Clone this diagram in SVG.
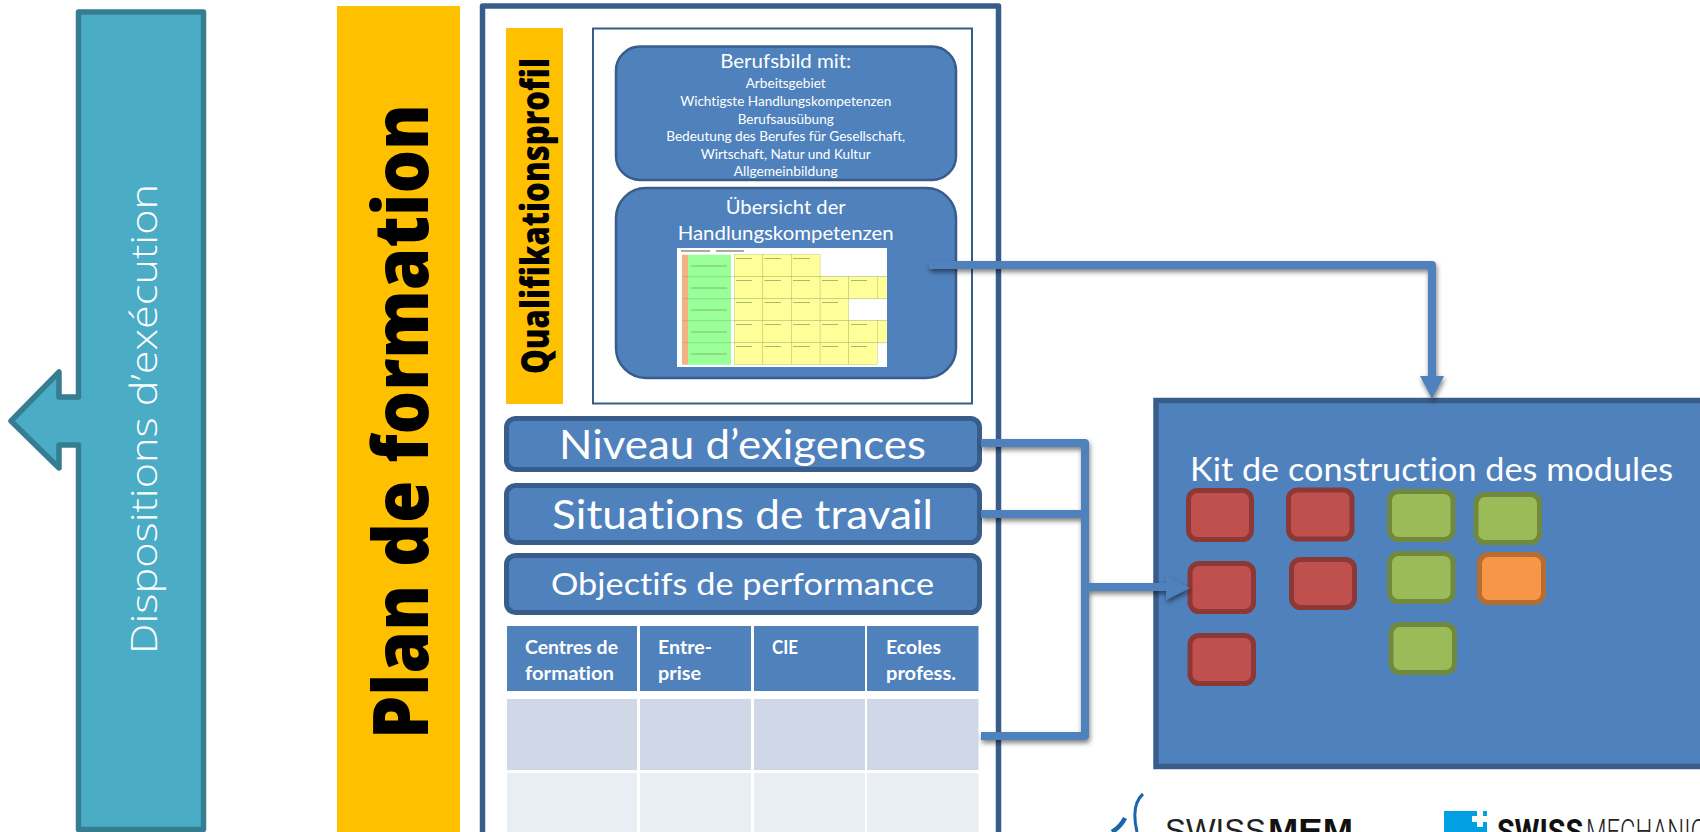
<svg xmlns="http://www.w3.org/2000/svg" width="1700" height="832" viewBox="0 0 1700 832">
<defs>
<filter id="sh" x="-20%" y="-20%" width="140%" height="140%"><feDropShadow dx="1" dy="3" stdDeviation="2.500" flood-color="#000" flood-opacity="0.5"/></filter>
<g id="cell"><rect width="28.6" height="22" fill="#ffff99" stroke="#b5b56a" stroke-width="0.4"/></g>
</defs>
<style>
text{font-family:"Lato","Liberation Sans",sans-serif;fill:#fff;font-variant-ligatures:none}
.box{fill:#4f81bd;stroke:#385d8a}
.mod{stroke-width:5}
.r{fill:#c0504d;stroke:#8c3836}
.g{fill:#9bbb59;stroke:#71893f}
.o{fill:#f79646;stroke:#b66d31}
.hd{fill:#4f81bd}.r1{fill:#d0d8e8}.r2{fill:#e9edf4}
.th{font-size:18.5px;font-weight:700}
.sm{font-size:14px}
.dv{font-family:"Open Sans",sans-serif;font-weight:800;fill:#000}
.con{fill:none;stroke:#4f81bd;stroke-width:8;stroke-linejoin:round}
</style>
<rect width="1700" height="832" fill="#fff"/>
<g id="dispositions">
<path d="M78.5 12H203.5V829.5H78.500V445H59V468L11 421L59 372V397H78.500Z" fill="#4bacc6" stroke="#357d91" stroke-width="5.500" stroke-linejoin="round"/>
<text transform="translate(157 654) rotate(-90)" font-size="36" font-weight="300" style="font-family:'Open Sans',sans-serif" textLength="470" lengthAdjust="spacingAndGlyphs">Dispositions d’exécution</text>
</g>
<g id="plan-title">
<rect x="337" y="6" width="123" height="826" fill="#ffc000"/>
<text class="dv" transform="translate(428 739) rotate(-90)" font-size="76" textLength="635" lengthAdjust="spacingAndGlyphs">Plan de formation</text>
</g>
<g id="frame"><path d="M482.500 840V6H998.500V840" fill="#fff" stroke="#385d8a" stroke-width="5.500" stroke-linejoin="round"/></g>
<g id="qualifikation">
<rect x="506" y="28" width="57" height="376" fill="#ffc000"/>
<text class="dv" transform="translate(549 374) rotate(-90)" font-size="38" textLength="316" lengthAdjust="spacingAndGlyphs">Qualifikationsprofil</text>
</g>
<g id="profil-box"><rect x="593" y="28.500" width="379" height="375" fill="#fff" stroke="#385d8a" stroke-width="2"/></g>
<g id="berufsbild">
<rect class="box" x="616" y="46.500" width="340" height="133.500" rx="24" stroke-width="2.500"/>
<g text-anchor="middle">
<text x="785.700" y="68" font-size="20" textLength="131" lengthAdjust="spacingAndGlyphs">Berufsbild mit:</text>
<text class="sm" x="785.700" y="88" textLength="80" lengthAdjust="spacingAndGlyphs">Arbeitsgebiet</text>
<text class="sm" x="785.700" y="106" textLength="211" lengthAdjust="spacingAndGlyphs">Wichtigste Handlungskompetenzen</text>
<text class="sm" x="785.700" y="124" textLength="96" lengthAdjust="spacingAndGlyphs">Berufsausübung</text>
<text class="sm" x="785.700" y="141" textLength="239" lengthAdjust="spacingAndGlyphs">Bedeutung des Berufes für Gesellschaft,</text>
<text class="sm" x="785.700" y="159" textLength="170" lengthAdjust="spacingAndGlyphs">Wirtschaft, Natur und Kultur</text>
<text class="sm" x="785.700" y="176" textLength="104" lengthAdjust="spacingAndGlyphs">Allgemeinbildung</text>
</g>
</g>
<g id="uebersicht">
<rect class="box" x="616" y="188" width="340" height="190" rx="30" stroke-width="2.500"/>
<g text-anchor="middle">
<text x="785.700" y="214" font-size="20" textLength="120" lengthAdjust="spacingAndGlyphs">Übersicht der</text>
<text x="785.700" y="240" font-size="20" textLength="216" lengthAdjust="spacingAndGlyphs">Handlungskompetenzen</text>
</g>
<rect x="677" y="248" width="210" height="119" fill="#fff"/>
<svg x="677" y="248" width="210" height="119" viewBox="677 248 210 119">
<rect x="682" y="254.700" width="6" height="110" fill="#f4b183"/>
<rect x="688" y="254.700" width="43" height="110" fill="#99ff99"/>
<path d="M682 276.700H887M682 298.700H887M682 320.700H887M682 342.700H887" stroke="#8aa07a" stroke-width="0.400"/>
<use href="#cell" x="734.300" y="254.700"/><use href="#cell" x="762.900" y="254.700"/><use href="#cell" x="791.500" y="254.700"/>
<use href="#cell" x="734.300" y="276.700"/><use href="#cell" x="762.900" y="276.700"/><use href="#cell" x="791.500" y="276.700"/><use href="#cell" x="820.100" y="276.700"/><use href="#cell" x="848.700" y="276.700"/><use href="#cell" x="877.300" y="276.700"/>
<use href="#cell" x="734.300" y="298.700"/><use href="#cell" x="762.900" y="298.700"/><use href="#cell" x="791.500" y="298.700"/><use href="#cell" x="820.100" y="298.700"/>
<use href="#cell" x="734.300" y="320.700"/><use href="#cell" x="762.900" y="320.700"/><use href="#cell" x="791.500" y="320.700"/><use href="#cell" x="820.100" y="320.700"/><use href="#cell" x="848.700" y="320.700"/><use href="#cell" x="877.300" y="320.700"/>
<use href="#cell" x="734.300" y="342.700"/><use href="#cell" x="762.900" y="342.700"/><use href="#cell" x="791.500" y="342.700"/><use href="#cell" x="820.100" y="342.700"/><use href="#cell" x="848.700" y="342.700"/>
<path d="M691 266H727M691 288H727M691 310H727M691 332H727M691 354H727M736 258.500H752M764.500 258.500H781M793 258.500H810M736 280.500H752M764.500 280.500H781M793 280.500H810M822 280.500H838M851 280.500H867M736 302.500H752M764.500 302.500H781M793 302.500H810M822 302.500H838M736 324.500H752M764.500 324.500H781M793 324.500H810M822 324.500H838M851 324.500H867M736 346.500H752M764.500 346.500H781M793 346.500H810M822 346.500H838M851 346.500H867" stroke="#6f8f45" stroke-width="1" opacity="0.600"/>
<path d="M681 251H710M716 251H744" stroke="#555" stroke-width="1"/>
</svg>
</g>
<g id="niveau"><rect class="box" x="506.500" y="418.500" width="473" height="51" rx="9" stroke-width="5"/>
<text x="559" y="459" font-size="40" textLength="367" lengthAdjust="spacingAndGlyphs">Niveau d’exigences</text></g>
<g id="situations"><rect class="box" x="506.500" y="485.500" width="473" height="57" rx="9" stroke-width="5"/>
<text x="552" y="529" font-size="40" textLength="381" lengthAdjust="spacingAndGlyphs">Situations de travail</text></g>
<g id="objectifs"><rect class="box" x="506.500" y="555.500" width="473" height="57" rx="9" stroke-width="5"/>
<text x="551" y="595" font-size="31" textLength="383" lengthAdjust="spacingAndGlyphs">Objectifs de performance</text></g>
<g id="lieux-table">
<rect class="hd" x="507" y="626" width="130" height="65"/><rect class="hd" x="640" y="626" width="111" height="65"/><rect class="hd" x="754" y="626" width="111" height="65"/><rect class="hd" x="867" y="626" width="111.500" height="65"/>
<rect class="r1" x="507" y="699" width="130" height="71"/><rect class="r1" x="640" y="699" width="111" height="71"/><rect class="r1" x="754" y="699" width="111" height="71"/><rect class="r1" x="867" y="699" width="111.500" height="71"/>
<rect class="r2" x="507" y="773" width="130" height="59"/><rect class="r2" x="640" y="773" width="111" height="59"/><rect class="r2" x="754" y="773" width="111" height="59"/><rect class="r2" x="867" y="773" width="111.500" height="59"/>
<text class="th" x="525" y="654" textLength="93" lengthAdjust="spacingAndGlyphs">Centres de</text>
<text class="th" x="525" y="680" textLength="89" lengthAdjust="spacingAndGlyphs">formation</text>
<text class="th" x="658" y="654" textLength="54" lengthAdjust="spacingAndGlyphs">Entre-</text>
<text class="th" x="658" y="680" textLength="43" lengthAdjust="spacingAndGlyphs">prise</text>
<text class="th" x="772" y="654" textLength="26" lengthAdjust="spacingAndGlyphs">CIE</text>
<text class="th" x="886" y="654" textLength="55" lengthAdjust="spacingAndGlyphs">Ecoles</text>
<text class="th" x="886" y="680" textLength="70" lengthAdjust="spacingAndGlyphs">profess.</text>
</g>
<g id="kit">
<rect class="box" x="1156" y="400.500" width="600" height="366" stroke-width="5.500"/>
<text x="1190" y="481" font-size="32" textLength="483" lengthAdjust="spacingAndGlyphs">Kit de construction des modules</text>
</g>
<g id="modules">
<g id="m1"><rect class="mod r" x="1188.500" y="490.500" width="63" height="49" rx="9"/></g>
<g id="m2"><rect class="mod r" x="1288.500" y="490" width="63.500" height="49" rx="9"/></g>
<g id="m3"><rect class="mod r" x="1190" y="563.500" width="63.500" height="48" rx="9"/></g>
<g id="m4"><rect class="mod r" x="1291.500" y="559.500" width="63" height="48" rx="9"/></g>
<g id="m5"><rect class="mod r" x="1190" y="635.500" width="63.500" height="48" rx="9"/></g>
<g id="m6"><rect class="mod g" x="1389.500" y="491.500" width="63.500" height="48" rx="9"/></g>
<g id="m7"><rect class="mod g" x="1476" y="494.500" width="63.500" height="48" rx="9"/></g>
<g id="m8"><rect class="mod g" x="1389.500" y="553.500" width="63.500" height="48" rx="9"/></g>
<g id="m9"><rect class="mod o" x="1479.500" y="554.500" width="64" height="48" rx="9"/></g>
<g id="m10"><rect class="mod g" x="1391" y="624.500" width="63.500" height="48" rx="9"/></g>
</g>
<g id="connectors" filter="url(#sh)">
<path class="con" d="M929 265H1432V378"/>
<path d="M1420 376H1444L1432 399Z" fill="#4f81bd"/>
<path class="con" d="M981 443H1085V736H981"/>
<path class="con" d="M981 514H1085"/>
<path class="con" d="M1085 587H1168"/>
<path d="M1166 576L1190 588L1166 600Z" fill="#4f81bd"/>
</g>
<g id="logo-swissmem">
<path d="M1143 794C1135 801 1133 815 1137 832" fill="none" stroke="#1a66a8" stroke-width="3"/>
<path d="M1125 818C1122 824 1117 829 1112 832" fill="none" stroke="#1a66a8" stroke-width="4.500"/>
<text x="1165" y="842" font-size="33" style="font-family:'Liberation Sans',sans-serif;fill:#222" textLength="101" lengthAdjust="spacingAndGlyphs">SWISS</text>
<text x="1268" y="842" font-size="33" font-weight="700" style="font-family:'Liberation Sans',sans-serif;fill:#111" textLength="85" lengthAdjust="spacingAndGlyphs">MEM</text>
</g>
<g id="logo-swissmechanic">
<rect x="1444" y="811" width="43" height="21" fill="#00a0e3"/>
<path d="M1472 816H1477V811H1483V816H1487V822H1483V827H1477V822H1472Z" fill="#fff"/>
<text x="1497" y="843" font-size="33" font-weight="700" style="font-family:'Roboto',sans-serif;fill:#111" textLength="86" lengthAdjust="spacingAndGlyphs">SWISS</text>
<text x="1586" y="843" font-size="33" font-weight="300" style="font-family:'Roboto',sans-serif;fill:#222" textLength="120" lengthAdjust="spacingAndGlyphs">MECHANIC</text>
</g>
</svg>
